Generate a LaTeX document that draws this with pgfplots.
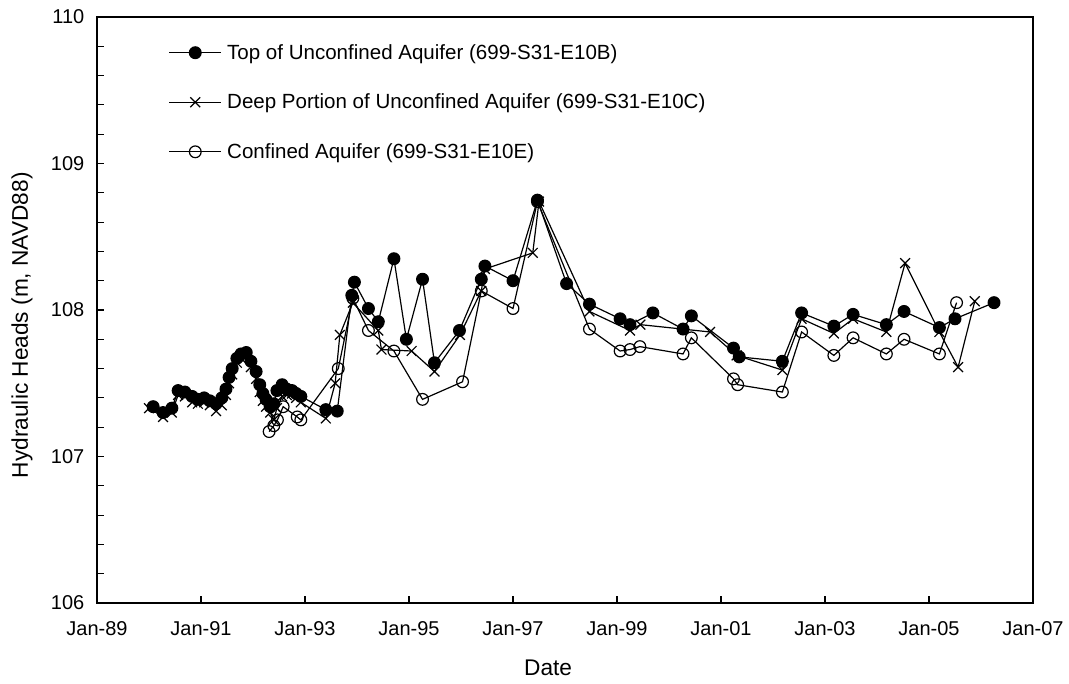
\documentclass[border=0pt]{standalone}
\usepackage{fontspec}
\setmainfont{Liberation Sans}
\usepackage{pgfplots}
\pgfplotsset{compat=1.18}

\begin{document}
\begin{tikzpicture}
\begin{axis}[
  scale only axis,
  width=702pt, height=439.5pt,
  xmin=1989, xmax=2007,
  ymin=106, ymax=110,
  xtick={1989,1991,1993,1995,1997,1999,2001,2003,2005,2007},
  xticklabels={Jan-89,Jan-91,Jan-93,Jan-95,Jan-97,Jan-99,Jan-01,Jan-03,Jan-05,Jan-07},
  ytick={106,107,108,109,110},
  minor y tick num=4,
  xtick pos=bottom, ytick pos=left,
  tick align=inside,
  major tick length=5pt, minor tick length=5pt,
  every tick/.style={black, line width=0.8pt},
  axis line style={line width=1.2pt},
  /pgf/number format/assume math mode=true,
  font=\fontsize{15}{18}\selectfont,
  yticklabel style={/pgf/number format/.cd, fixed, precision=0, /tikz/.cd, xshift=-6pt},
  xticklabel style={yshift=-10pt},
  xlabel={Date},
  ylabel={Hydraulic Heads (m, NAVD88)},
  xlabel style={at={(axis description cs:0.482,-0.111)}, anchor=center, font=\fontsize{17}{20}\selectfont},
  ylabel style={at={(axis description cs:-0.080,0.474)}, anchor=center, font=\fontsize{17}{20}\selectfont},
  legend style={at={(0.072,0.963)}, anchor=north west, draw=none, fill=none,
    font=\fontsize{15.4}{18}\selectfont, row sep=20.5pt, legend cell align=left},
  legend image code/.code={
    \draw[mark repeat=2, mark phase=2] plot coordinates {(0pt,0pt) (19.5pt,0pt) (39pt,0pt)};},
]

% Top of Unconfined Aquifer (699-S31-E10B)
\addplot[black, line width=0.9pt, mark=*, mark size=4.4pt, mark options={fill=black}] coordinates {
(1990.08,107.34) (1990.27,107.30) (1990.44,107.33) (1990.56,107.45) (1990.69,107.44)
(1990.83,107.41) (1990.94,107.39) (1991.06,107.40) (1991.17,107.38) (1991.29,107.36)
(1991.40,107.40) (1991.48,107.46) (1991.54,107.54) (1991.60,107.60) (1991.69,107.67)
(1991.77,107.70) (1991.87,107.71) (1991.96,107.65) (1992.06,107.58) (1992.13,107.49)
(1992.19,107.43) (1992.25,107.39) (1992.33,107.34) (1992.40,107.36) (1992.46,107.45)
(1992.56,107.49) (1992.65,107.46) (1992.75,107.45) (1992.83,107.43) (1992.92,107.41)
(1993.40,107.32) (1993.62,107.31) (1993.90,108.10) (1993.95,108.19) (1994.22,108.01)
(1994.41,107.92) (1994.71,108.35) (1994.95,107.80) (1995.26,108.21) (1995.49,107.64)
(1995.97,107.86) (1996.39,108.21) (1996.46,108.30) (1997.00,108.20) (1997.47,108.75)
(1998.03,108.18) (1998.47,108.04) (1999.06,107.94) (1999.25,107.90) (1999.69,107.98)
(2000.27,107.87) (2000.43,107.96) (2001.24,107.74) (2001.35,107.68) (2002.18,107.65)
(2002.55,107.98) (2003.17,107.89) (2003.54,107.97) (2004.18,107.90) (2004.52,107.99)
(2005.20,107.88) (2005.50,107.94) (2006.25,108.05)
};
\addlegendentry{\hspace{2pt}Top of Unconfined Aquifer (699-S31-E10B)}

% Deep Portion of Unconfined Aquifer (699-S31-E10C)
\addplot[black, line width=0.9pt, mark=x, mark size=5.2pt, mark options={line width=0.9pt}] coordinates {
(1990.00,107.33) (1990.27,107.27) (1990.44,107.30) (1990.56,107.42) (1990.69,107.41)
(1990.83,107.37) (1990.94,107.36) (1991.06,107.37) (1991.17,107.35) (1991.29,107.31)
(1991.40,107.35) (1991.48,107.42) (1991.54,107.50) (1991.60,107.56) (1991.69,107.64)
(1991.77,107.67) (1991.87,107.68) (1991.96,107.61) (1992.06,107.53) (1992.13,107.44)
(1992.19,107.38) (1992.25,107.34) (1992.33,107.30) (1992.40,107.25) (1992.46,107.33)
(1992.56,107.41) (1992.65,107.42) (1992.75,107.43) (1992.83,107.40) (1992.92,107.37)
(1993.40,107.26) (1993.58,107.50) (1993.67,107.83) (1993.92,108.05) (1994.41,107.86)
(1994.47,107.73) (1995.05,107.72) (1995.49,107.58) (1995.98,107.83) (1996.39,108.13)
(1996.46,108.28) (1997.38,108.39) (1997.50,108.74) (1998.47,107.99) (1999.25,107.86)
(1999.45,107.90) (2000.79,107.85) (2001.30,107.69) (2002.18,107.59) (2002.55,107.94)
(2003.17,107.84) (2003.54,107.94) (2004.18,107.85) (2004.54,108.32) (2005.20,107.85)
(2005.56,107.61) (2005.88,108.06)
};
\addlegendentry{\hspace{2pt}Deep Portion of Unconfined Aquifer (699-S31-E10C)}

% Confined Aquifer (699-S31-E10E)
\addplot[black, line width=0.9pt, mark=o, mark size=4.4pt, mark options={fill=white, line width=0.9pt}] coordinates {
(1992.31,107.17) (1992.40,107.21) (1992.47,107.25) (1992.58,107.34) (1992.85,107.27)
(1992.92,107.25) (1993.64,107.60) (1993.92,108.08) (1994.22,107.86) (1994.71,107.72)
(1995.26,107.39) (1996.03,107.51) (1996.39,108.13) (1997.00,108.01) (1997.47,108.74)
(1998.47,107.87) (1999.06,107.72) (1999.25,107.73) (1999.44,107.75) (2000.27,107.70)
(2000.43,107.81) (2001.24,107.53) (2001.32,107.49) (2002.18,107.44) (2002.55,107.85)
(2003.17,107.69) (2003.54,107.81) (2004.18,107.70) (2004.52,107.80) (2005.20,107.70)
(2005.53,108.05)
};
\addlegendentry{\hspace{2pt}Confined Aquifer (699-S31-E10E)}

\coordinate (sw) at (rel axis cs:0,0);
\end{axis}
\pgfresetboundingbox
\path (sw) ++(-72.75pt,-60.75pt) rectangle ++(801.75pt,513pt);
\end{tikzpicture}
\end{document}
